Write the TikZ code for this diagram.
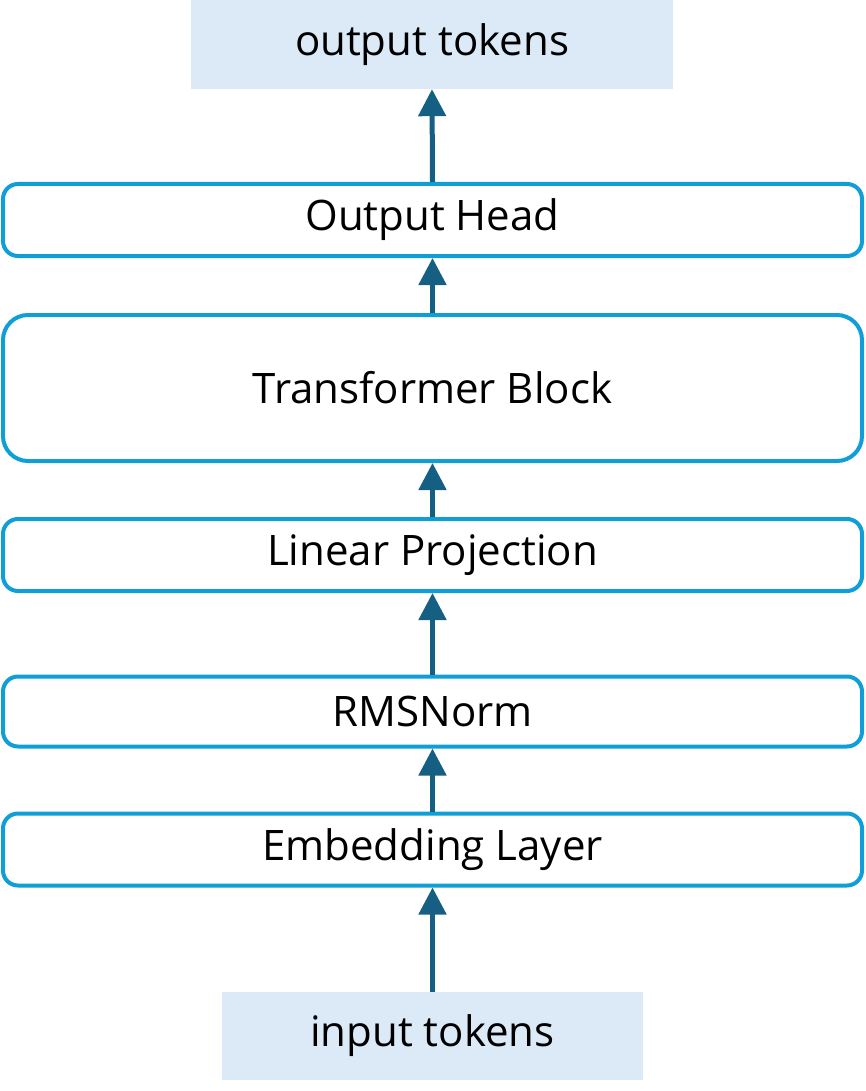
\documentclass[tikz,border=0pt]{standalone}
\usepackage{fontspec}
\setmainfont{Open Sans}
\usepackage{tikz}
\usetikzlibrary{arrows.meta}
\definecolor{edgeblue}{HTML}{0F9ED5}
\definecolor{arrowblue}{HTML}{156082}
\definecolor{tokfill}{HTML}{DCEAF7}
\tikzset{
  layer/.style={draw=edgeblue,line width=4pt,rounded corners=15pt,minimum width=859pt,minimum height=72pt,inner sep=0pt,font=\fontsize{42}{48}\selectfont},
  tok/.style={fill=tokfill,inner sep=0pt,minimum height=89pt,font=\fontsize{42}{48}\selectfont},
  flow/.style={draw=arrowblue,line width=5pt,-{Triangle[length=27pt,width=27pt]}}
}
\begin{document}
\begin{tikzpicture}[x=1pt,y=-1pt]
  \useasboundingbox (0,0) rectangle (865,1091);
  \node[tok,minimum width=482pt] (out) at (432,44.5) {output tokens};
  \node[layer] (head) at (432.5,220) {Output Head};
  \node[layer,minimum height=146pt,rounded corners=25pt] (tb) at (432.5,388) {Transformer Block};
  \node[layer] (proj) at (432.5,555) {Linear Projection};
  \node[layer,minimum height=70pt] (norm) at (432.5,711.5) {RMSNorm};
  \node[layer] (emb) at (432.5,849.5) {Embedding Layer};
  \node[tok,minimum width=421pt,minimum height=88pt] (in) at (432.5,1036) {input tokens};
  % bottom to top
  \draw[flow] (in.north) -- (emb.north |- emb.south);
  \foreach \a/\b in {emb/norm,norm/proj,proj/tb,tb/head,head/out}
    \draw[flow] (\a.north) -- (\b.south);
\end{tikzpicture}
\end{document}
